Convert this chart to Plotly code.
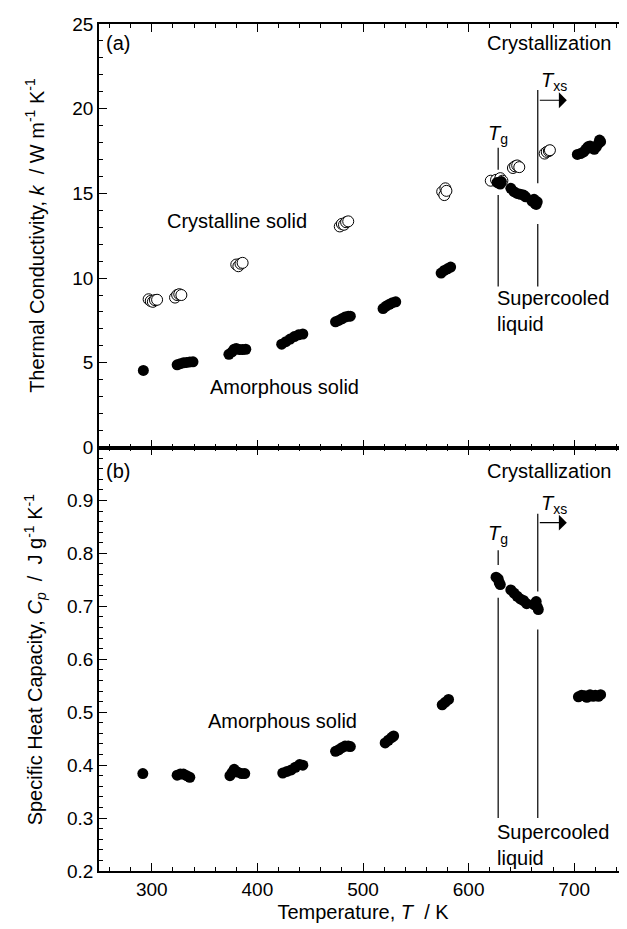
import plotly.graph_objects as go

# ---------------- data ----------------
# (a) thermal conductivity, amorphous solid (filled)
T_amorph_k = [292, 324, 327, 330, 333, 336, 339, 373, 376, 378, 380, 383, 386, 389,
              423, 427, 431, 435, 439, 443, 474, 477, 480, 483, 486, 488,
              519, 522, 525, 528, 531, 574, 577, 580, 583]
k_amorph = [4.55, 4.88, 4.95, 5.0, 5.02, 5.05, 5.06, 5.5, 5.65, 5.8, 5.85, 5.78, 5.78, 5.8,
            6.1, 6.25, 6.4, 6.55, 6.65, 6.7, 7.42, 7.5, 7.6, 7.7, 7.75, 7.75,
            8.2, 8.35, 8.45, 8.55, 8.6, 10.3, 10.45, 10.55, 10.65]
# supercooled liquid (filled)
T_scl_k = [627, 629, 630, 631, 640, 643, 646, 649, 652, 654, 660, 662, 663, 664, 665]
k_scl = [15.65, 15.6, 15.55, 15.7, 15.3, 15.1, 15.0, 14.95, 14.9, 14.8, 14.55, 14.65, 14.4, 14.35, 14.5]
# after crystallization (filled)
T_cry_k = [703, 706, 709, 711, 713, 715, 717, 719, 721, 723, 724, 725]
k_cry = [17.3, 17.35, 17.45, 17.6, 17.75, 17.8, 17.7, 17.6, 17.75, 17.95, 18.15, 18.05]
# crystalline solid (open)
T_xtal_k = [297, 299, 301, 303, 305, 322, 324, 326, 328, 380, 382, 384, 386,
            478, 480, 482, 484, 486, 575, 577, 578, 579, 621, 626, 630, 632,
            642, 644, 646, 648, 672, 674, 676, 677]
k_xtal = [8.75, 8.65, 8.6, 8.7, 8.72, 8.85, 9.0, 9.05, 9.0, 10.8, 10.7, 10.85, 10.9,
          13.05, 13.2, 13.15, 13.3, 13.35, 15.1, 14.9, 15.3, 15.15, 15.75, 15.8, 15.9, 15.75,
          16.5, 16.6, 16.65, 16.55, 17.35, 17.45, 17.5, 17.55]

# (b) specific heat capacity (filled)
T_cp = [291.5, 324, 327, 330, 333, 336, 374, 376, 378, 381, 385, 388,
        424, 428, 432, 436, 440, 443, 474, 477, 480, 483, 486, 488,
        521, 524, 527, 529, 575, 578, 581,
        626, 628, 629, 630, 640, 643, 646, 649, 652, 655, 662, 664, 665, 666,
        704, 707, 710, 712, 715, 718, 720, 723, 725]
cp = [0.384, 0.381, 0.383, 0.383, 0.380, 0.377, 0.380, 0.386, 0.392, 0.387, 0.384, 0.384,
      0.385, 0.388, 0.391, 0.396, 0.401, 0.400, 0.426, 0.429, 0.433, 0.436, 0.436, 0.435,
      0.442, 0.447, 0.452, 0.455, 0.514, 0.519, 0.524,
      0.755, 0.752, 0.745, 0.741, 0.731, 0.725, 0.719, 0.714, 0.711, 0.705, 0.703, 0.709, 0.699, 0.694,
      0.529, 0.532, 0.531, 0.528, 0.533, 0.530, 0.532, 0.530, 0.533]

T_g = 628.0
T_xs = 665.5

x_ticks = [300, 400, 500, 600, 700]
k_ticks = [0, 5, 10, 15, 20, 25]
cp_ticks = [0.2, 0.3, 0.4, 0.5, 0.6, 0.7, 0.8, 0.9]

FONT = "Liberation Sans, Arial, sans-serif"
BLACK = "black"

fig = go.Figure()

fig.add_trace(go.Scatter(x=T_xtal_k, y=k_xtal, mode="markers", xaxis="x2", yaxis="y2",
                         marker=dict(size=11, color="white", line=dict(color=BLACK, width=1)),
                         showlegend=False))
for xs, ys in [(T_amorph_k, k_amorph), (T_scl_k, k_scl), (T_cry_k, k_cry)]:
    fig.add_trace(go.Scatter(x=xs, y=ys, mode="markers", xaxis="x2", yaxis="y2",
                             marker=dict(size=11, color=BLACK), showlegend=False))
fig.add_trace(go.Scatter(x=T_cp, y=cp, mode="markers", xaxis="x", yaxis="y",
                         marker=dict(size=11, color=BLACK), showlegend=False))

# vertical marker lines
shapes = []
def vline(xv, y0, y1, yref):
    shapes.append(dict(type="line", xref="x", yref=yref, x0=xv, x1=xv, y0=y0, y1=y1,
                       line=dict(color=BLACK, width=1.2)))
vline(T_g, 9.5, 14.9, "y2"); vline(T_g, 16.4, 17.7, "y2")
vline(T_xs, 9.5, 13.2, "y2"); vline(T_xs, 15.6, 21.1, "y2")
vline(T_g, 0.30, 0.716, "y"); vline(T_g, 0.778, 0.806, "y")
vline(T_xs, 0.30, 0.656, "y"); vline(T_xs, 0.728, 0.875, "y")

ann = []
def text(x, y, s, yref, xanchor="center", yanchor="middle", size=20, align="left"):
    ann.append(dict(x=x, y=y, xref="x", yref=yref, text=s, showarrow=False,
                    xanchor=xanchor, yanchor=yanchor, align=align,
                    font=dict(size=size, color=BLACK, family=FONT)))

# panel (a)
text(255, 23.9, "(a)", "y2", xanchor="left")
text(737, 23.9, "Crystallization", "y2", xanchor="right")
text(381, 13.4, "Crystalline solid", "y2")
text(426, 3.6, "Amorphous solid", "y2")
text(625, 9.6, "Supercooled<br>liquid", "y2", xanchor="left", yanchor="top")
text(T_g, 18.5, "<i>T</i><sub>g</sub>", "y2", xanchor="center")
text(T_xs + 1, 21.6, "<i>T</i><sub>xs</sub>", "y2", xanchor="left")
# panel (b)
text(255, 0.955, "(b)", "y", xanchor="left")
text(737, 0.955, "Crystallization", "y", xanchor="right")
text(424, 0.484, "Amorphous solid", "y")
text(625, 0.298, "Supercooled<br>liquid", "y", xanchor="left", yanchor="top")
text(T_g, 0.835, "<i>T</i><sub>g</sub>", "y", xanchor="center")
text(T_xs + 1, 0.892, "<i>T</i><sub>xs</sub>", "y", xanchor="left")

# arrows
for yref, yv in [("y2", 20.5), ("y", 0.858)]:
    ann.append(dict(x=693, y=yv, ax=T_xs + 0.5, ay=yv, xref="x", yref=yref, axref="x", ayref=yref,
                    showarrow=True, arrowhead=1, arrowsize=2.2, arrowwidth=1.2, arrowcolor=BLACK,
                    text=""))

# y axis titles
ann.append(dict(x=-0.121, y=0.75, xref="paper", yref="paper", textangle=-90, showarrow=False,
                xanchor="center", yanchor="middle",
                text="Thermal Conductivity, <i>k</i>  / W m<sup>-1</sup> K<sup>-1</sup>",
                font=dict(size=20, color=BLACK, family=FONT)))
ann.append(dict(x=-0.121, y=0.25, xref="paper", yref="paper", textangle=-90, showarrow=False,
                xanchor="center", yanchor="middle",
                text="Specific Heat Capacity, <i>C<sub>p</sub></i>  /  J g<sup>-1</sup> K<sup>-1</sup>",
                font=dict(size=20, color=BLACK, family=FONT)))

axis_common = dict(showline=True, linecolor=BLACK, linewidth=1.5, mirror="allticks",
                   ticks="inside", ticklen=8, tickwidth=1.2, tickcolor=BLACK,
                   showgrid=False, zeroline=False,
                   tickfont=dict(size=19, color=BLACK, family=FONT))

fig.update_layout(
    width=627, height=929,
    margin=dict(l=91, r=6, t=16, b=66),
    plot_bgcolor="white", paper_bgcolor="white",
    font=dict(family=FONT, color=BLACK),
    shapes=shapes, annotations=ann,
    xaxis=dict(axis_common, range=[250, 750], tickvals=x_ticks, anchor="y", domain=[0, 1],
               minor=dict(ticks="inside", ticklen=4, tick0=0, dtick=20, tickcolor=BLACK, showgrid=False),
               title=dict(text="Temperature, <i>T</i>  / K", font=dict(size=20, color=BLACK, family=FONT),
                          standoff=6)),
    xaxis2=dict(axis_common, range=[250, 750], tickvals=x_ticks, anchor="y2", matches="x",
                showticklabels=False,
                minor=dict(ticks="inside", ticklen=4, tick0=0, dtick=20, tickcolor=BLACK, showgrid=False)),
    yaxis=dict(axis_common, range=[0.2, 1.0], tickvals=cp_ticks, ticktext=[f"{v:.1f}" for v in cp_ticks],
               domain=[0, 0.5], anchor="x",
               minor=dict(ticks="inside", ticklen=4, tick0=0, dtick=0.02, tickcolor=BLACK, showgrid=False)),
    yaxis2=dict(axis_common, range=[0, 25], tickvals=k_ticks, domain=[0.5, 1], anchor="x2",
                minor=dict(ticks="inside", ticklen=4, tick0=0, dtick=1, tickcolor=BLACK, showgrid=False)),
)

fig.write_html("out.html")
